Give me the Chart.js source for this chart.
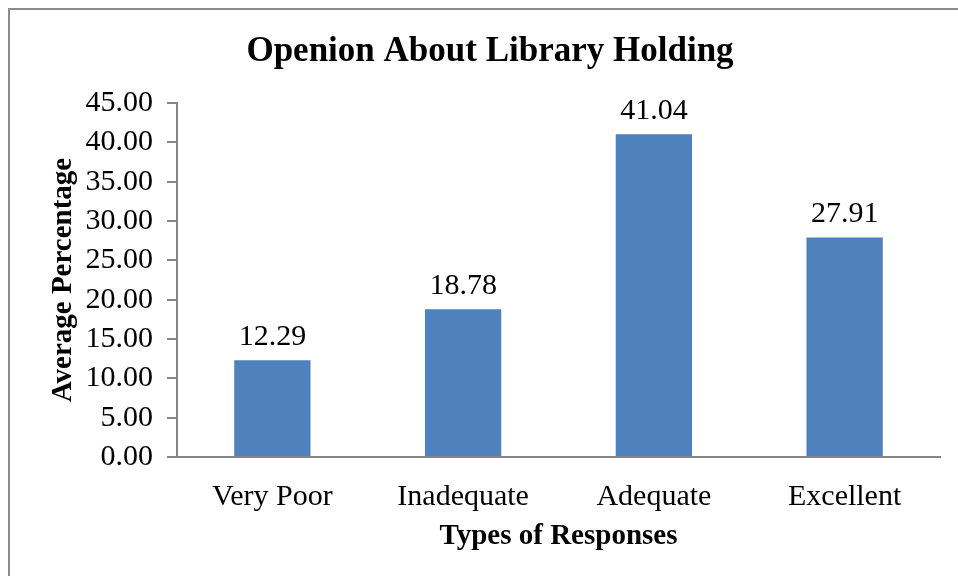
<!DOCTYPE html>
<html>
<head>
<meta charset="utf-8">
<script src="https://cdn.jsdelivr.net/npm/chart.js@4/dist/chart.umd.min.js"></script>
<style>
    html, body { margin: 0; padding: 0; background: #fff; }
    #wrap { width: 958px; height: 576px; position: relative; }
</style>
</head>
<body>
<div id="wrap"><canvas id="chart" width="958" height="576"></canvas></div>
<script>
// Chart data
const categories = ['Very Poor', 'Inadequate', 'Adequate', 'Excellent'];
const averagePercentage = [12.29, 18.78, 41.04, 27.91];
const yTicks = [0, 5, 10, 15, 20, 25, 30, 35, 40, 45];

const SERIF = '"Liberation Serif", "Times New Roman", serif';
const AXIS_GRAY = '#868686';

// Outer frame of the chart (only top/left edges show in the picture)
const framePlugin = {
    id: 'frame',
    beforeDraw(chart) {
        const ctx = chart.ctx;
        ctx.save();
        ctx.fillStyle = '#fff';
        ctx.fillRect(0, 0, chart.width, chart.height);
        ctx.strokeStyle = '#8c8c8c';
        ctx.lineWidth = 2;
        ctx.strokeRect(9, 9, chart.width + 20, chart.height + 20);
        ctx.restore();
    }
};

// Value labels above each bar
const valueLabelPlugin = {
    id: 'valueLabels',
    afterDatasetsDraw(chart) {
        const ctx = chart.ctx;
        const meta = chart.getDatasetMeta(0);
        ctx.save();
        ctx.font = '30px ' + SERIF;
        ctx.fillStyle = '#000';
        ctx.textAlign = 'center';
        ctx.textBaseline = 'alphabetic';
        meta.data.forEach((bar, i) => {
            ctx.fillText(averagePercentage[i].toFixed(2), bar.x, bar.y - 15);
        });
        ctx.restore();
    }
};

new Chart(document.getElementById('chart'), {
    type: 'bar',
    data: {
        labels: categories,
        datasets: [{
            data: averagePercentage,
            backgroundColor: '#4F81BD',
            borderWidth: 0,
            barPercentage: 0.4,
            categoryPercentage: 1.0
        }]
    },
    options: {
        responsive: false,
        animation: false,
        layout: {
            padding: { left: 40, right: 18, top: 0, bottom: 0 }
        },
        plugins: {
            legend: { display: false },
            tooltip: { enabled: false },
            title: {
                display: true,
                text: 'Openion About Library Holding',
                color: '#000',
                font: { family: SERIF, size: 35, weight: 'bold' },
                padding: { top: 31, bottom: 30 }
            }
        },
        scales: {
            y: {
                min: 0,
                max: 45,
                afterBuildTicks(scale) {
                    scale.ticks = yTicks.map(v => ({ value: v }));
                },
                afterFit(scale) {
                    scale.width = 137;
                },
                ticks: {
                    color: '#000',
                    font: { family: SERIF, size: 30 },
                    padding: 14,
                    callback: v => Number(v).toFixed(2)
                },
                grid: {
                    display: true,
                    drawOnChartArea: false,
                    drawTicks: true,
                    tickLength: 10,
                    color: AXIS_GRAY,
                    lineWidth: 2
                },
                border: { display: true, color: AXIS_GRAY, width: 2 },
                title: {
                    display: true,
                    text: 'Average Percentage',
                    color: '#000',
                    font: { family: SERIF, size: 29, weight: 'bold' },
                    padding: { top: 6, bottom: 0 }
                }
            },
            x: {
                afterFit(scale) {
                    scale.height = 119;
                },
                ticks: {
                    color: '#000',
                    font: { family: SERIF, size: 30 },
                    padding: 22
                },
                grid: {
                    display: false,
                    drawTicks: false
                },
                border: { display: true, color: AXIS_GRAY, width: 2 },
                title: {
                    display: true,
                    text: 'Types of Responses',
                    color: '#000',
                    font: { family: SERIF, size: 29, weight: 'bold' },
                    padding: { top: 0, bottom: 22 }
                }
            }
        }
    },
    plugins: [framePlugin, valueLabelPlugin]
});
</script>
</body>
</html>
